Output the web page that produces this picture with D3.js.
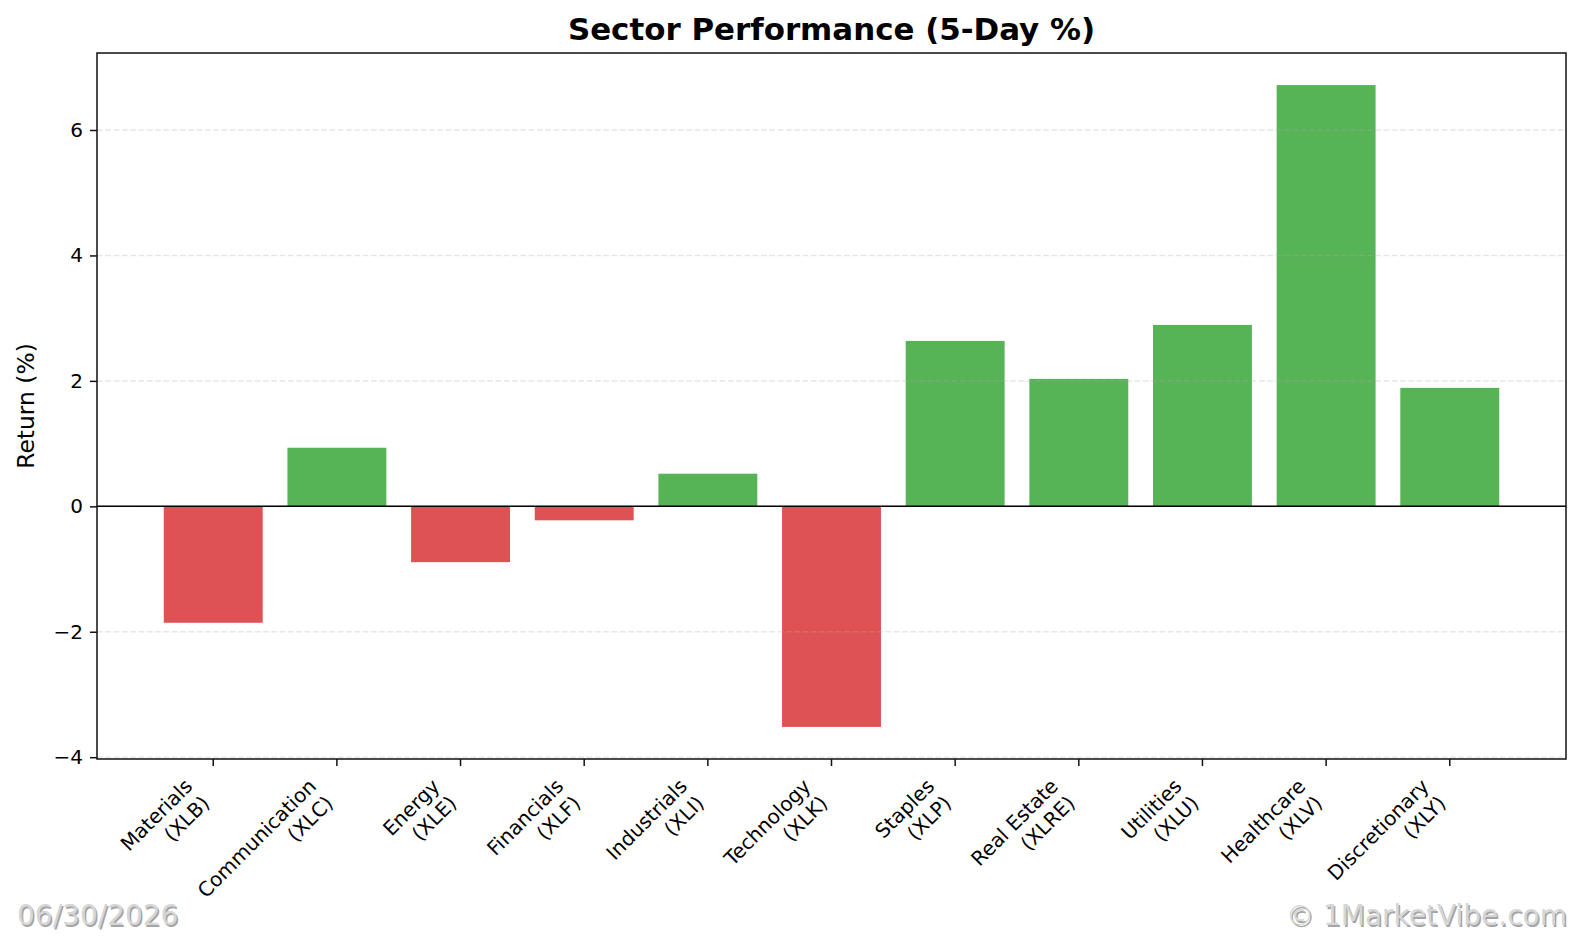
<!DOCTYPE html>
<html>
<head>
<meta charset="utf-8">
<script src="https://cdn.jsdelivr.net/npm/d3@7"></script>
<style>
  html, body { margin: 0; padding: 0; background: #fff; }
  svg { display: block; font-family: "DejaVu Sans", sans-serif; }
</style>
</head>
<body>
<svg id="chart" width="1582" height="937"></svg>
<script>
// ---- data ----
const sectors = ["Materials", "Communication", "Energy", "Financials", "Industrials", "Technology",
                 "Staples", "Real Estate", "Utilities", "Healthcare", "Discretionary"];
const tickers = ["XLB", "XLC", "XLE", "XLF", "XLI", "XLK", "XLP", "XLRE", "XLU", "XLV", "XLY"];
const returns = [-1.857, 0.934, -0.89, -0.223, 0.52, -3.517, 2.637, 2.032, 2.892, 6.716, 1.889];
const yTicks = [-4, -2, 0, 2, 4, 6];
const titleText = "Sector Performance (5-Day %)";
const yLabelText = "Return (%)";
const dateText = "06/30/2026";
const creditText = "© 1MarketVibe.com";

// ---- layout ----
const W = 1582, H = 937;
const plot = { left: 97, right: 1566, top: 53, bottom: 759 };
const posColor = "#56b356", negColor = "#df5254";

const svg = d3.select("#chart");

const x = d3.scaleBand()
  .domain(d3.range(sectors.length))
  .range([plot.left, plot.right])
  .paddingInner(0.2)
  .paddingOuter(0.54);

const yMin = Math.min(0, d3.min(returns)), yMax = Math.max(0, d3.max(returns));
const marg = (yMax - yMin) * 0.05;
const y = d3.scaleLinear()
  .domain([yMin - marg, yMax + marg])
  .range([plot.bottom, plot.top]);

// bars
svg.append("g").selectAll("rect")
  .data(returns)
  .join("rect")
  .attr("x", (d, i) => x(i))
  .attr("width", x.bandwidth())
  .attr("y", d => y(Math.max(0, d)))
  .attr("height", d => Math.abs(y(d) - y(0)))
  .attr("fill", d => d >= 0 ? posColor : negColor);

// grid (above bars, like matplotlib)
svg.append("g").selectAll("line")
  .data(yTicks)
  .join("line")
  .attr("x1", plot.left).attr("x2", plot.right)
  .attr("y1", d => y(d)).attr("y2", d => y(d))
  .attr("stroke", "#b0b0b0")
  .attr("stroke-opacity", 0.3)
  .attr("stroke-width", 1.5)
  .attr("stroke-dasharray", "5.8,2.5");

// zero line
svg.append("line")
  .attr("x1", plot.left).attr("x2", plot.right)
  .attr("y1", y(0)).attr("y2", y(0))
  .attr("stroke", "#000").attr("stroke-width", 1.5);

// y axis
const yAxis = d3.axisLeft(y).tickValues(yTicks).tickSize(7).tickPadding(7)
  .tickFormat(d3.format("d"));
const gy = svg.append("g").attr("transform", `translate(${plot.left},0)`).call(yAxis);
gy.select(".domain").remove();
gy.selectAll(".tick line").attr("stroke", "#111").attr("stroke-width", 1.5);
gy.selectAll(".tick text").attr("font-size", 20).attr("fill", "#000")
  .attr("font-family", "DejaVu Sans");

// x axis ticks
const xAxis = d3.axisBottom(x).tickSize(7).tickFormat("");
const gx = svg.append("g").attr("transform", `translate(0,${plot.bottom})`).call(xAxis);
gx.select(".domain").remove();
gx.selectAll(".tick line").attr("stroke", "#111").attr("stroke-width", 1.5);

// x tick labels: rotated 45, right aligned (ha=right, multialignment right)
const labelFont = 20;
const lineH = labelFont * 1.2;
const labelTop = plot.bottom + 7 + 8;
sectors.forEach((s, i) => {
  const cx = x(i) + x.bandwidth() / 2;
  const outer = svg.append("g");
  const inner = outer.append("g").attr("transform", "rotate(-45)");
  const t = inner.append("text")
    .attr("font-size", labelFont)
    .attr("font-family", "DejaVu Sans")
    .attr("text-anchor", "end")
    .attr("fill", "#000");
  t.append("tspan").attr("x", 0).attr("y", 0).text(s);
  t.append("tspan").attr("x", 0).attr("y", lineH).text("(" + tickers[i] + ")");
  const bb = t.node().getBBox();
  const corners = [[bb.x, bb.y], [bb.x + bb.width, bb.y], [bb.x, bb.y + bb.height], [bb.x + bb.width, bb.y + bb.height]];
  const r = Math.SQRT1_2;
  const rot = corners.map(([px, py]) => [(px + py) * r, (py - px) * r]);
  const maxX = d3.max(rot, c => c[0]);
  const minY = d3.min(rot, c => c[1]);
  outer.attr("transform", `translate(${cx - maxX + 1},${labelTop - minY})`);
});

// frame
svg.append("rect")
  .attr("x", plot.left).attr("y", plot.top)
  .attr("width", plot.right - plot.left).attr("height", plot.bottom - plot.top)
  .attr("fill", "none").attr("stroke", "#111").attr("stroke-width", 1.5);

// title
svg.append("text")
  .attr("x", (plot.left + plot.right) / 2).attr("y", 40)
  .attr("text-anchor", "middle")
  .attr("font-size", 30.9).attr("font-weight", "bold")
  .attr("fill", "#000")
  .text(titleText);

// y label
svg.append("text")
  .attr("transform", `translate(34,${(plot.top + plot.bottom) / 2}) rotate(-90)`)
  .attr("text-anchor", "middle")
  .attr("font-size", 23.4)
  .attr("fill", "#000")
  .text(yLabelText);

// footer with shadow
function shadowText(str, xx, yy, anchor) {
  svg.append("text").attr("x", xx + 1.5).attr("y", yy + 1.5)
    .attr("text-anchor", anchor).attr("font-size", 28)
    .attr("fill", "#8c8c8c").attr("fill-opacity", 0.8).text(str);
  svg.append("text").attr("x", xx).attr("y", yy)
    .attr("text-anchor", anchor).attr("font-size", 28)
    .attr("fill", "#d6d6d6").text(str);
}
shadowText(dateText, 17, 925, "start");
shadowText(creditText, 1567, 925, "end");
</script>
</body>
</html>
